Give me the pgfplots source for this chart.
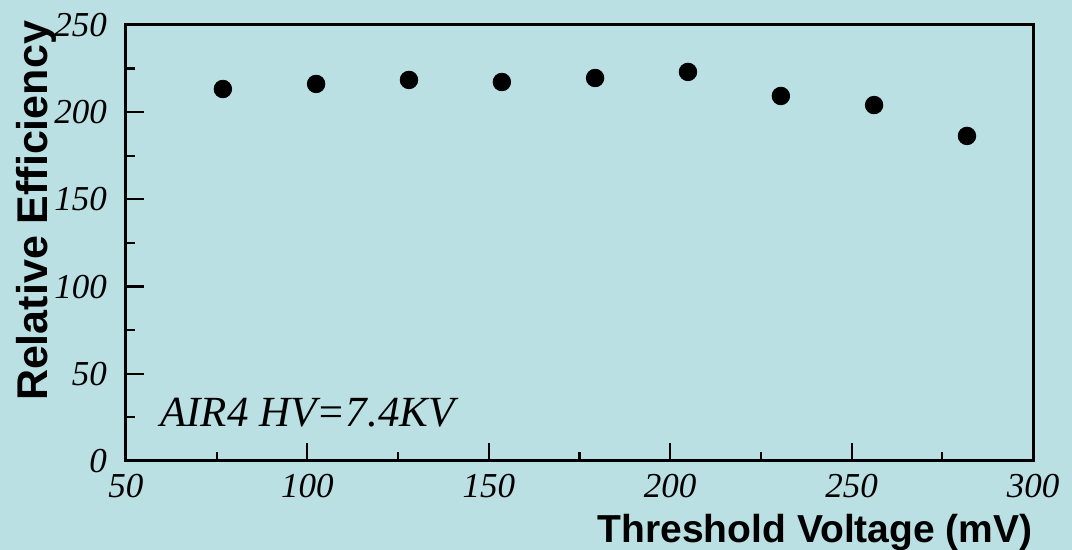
\documentclass[border=0pt]{standalone}
\usepackage{fontspec}
\setmainfont{Liberation Serif}
\setsansfont{Liberation Sans}
\usepackage{pgfplots}
\pgfplotsset{compat=1.18}
\usetikzlibrary{backgrounds}
\definecolor{panelbg}{RGB}{186,224,227}

\begin{document}
\begin{tikzpicture}
\begin{axis}[
    name=main,
    scale only axis,
    width=453.5pt, height=218pt,
    xmin=50, xmax=300, ymin=0, ymax=250,
    xtick={50,100,...,300}, ytick={0,50,...,250},
    minor tick num=1,
    xtick pos=bottom, ytick pos=left,
    tick align=inside,
    major tick length=9pt, minor tick length=4.5pt,
    axis line style={line width=1.5pt},
    tick style={black, line width=1.1pt},
    tick label style={font=\fontsize{17.5}{18}\selectfont\itshape},
    xticklabel style={yshift=-3pt},
    yticklabel style={xshift=-6pt},
    /pgf/number format/assume math mode=true,
    clip=false,
]
\addplot[only marks, mark=*, mark size=4.4pt, black] coordinates {
    (76.7,213.3) (102.4,216.2) (128.0,218.5) (153.6,217.3) (179.3,219.6)
    (204.9,223.1) (230.5,209.3) (256.2,204.1) (281.8,186.4)
};
\end{axis}
% text
\node[anchor=base west, font=\fontsize{21.5}{22}\selectfont\itshape, inner sep=0pt]
    at ([shift={(17pt,17pt)}]main.south west) {AIR4 HV=7.4KV};
\node[anchor=base east, font=\fontsize{19.5}{20}\selectfont\sffamily\bfseries, inner sep=0pt]
    at ([shift={(0pt,-41pt)}]main.south east) {Threshold Voltage (mV)};
\node[rotate=90, font=\fontsize{21.5}{22}\selectfont\sffamily\bfseries, inner sep=0pt]
    at ([shift={(-45pt,125pt)}]main.south west) {Relative Efficiency};
% background panel and page size
\begin{scope}[on background layer]
\fill[panelbg] ([shift={(-63pt,-44.5pt)}]main.south west) rectangle ([shift={(19.5pt,12.5pt)}]main.north east);
\end{scope}
\pgfresetboundingbox
\path[use as bounding box] ([shift={(-63pt,-44.5pt)}]main.south west) rectangle ([shift={(19.5pt,12.5pt)}]main.north east);
\end{tikzpicture}
\end{document}
